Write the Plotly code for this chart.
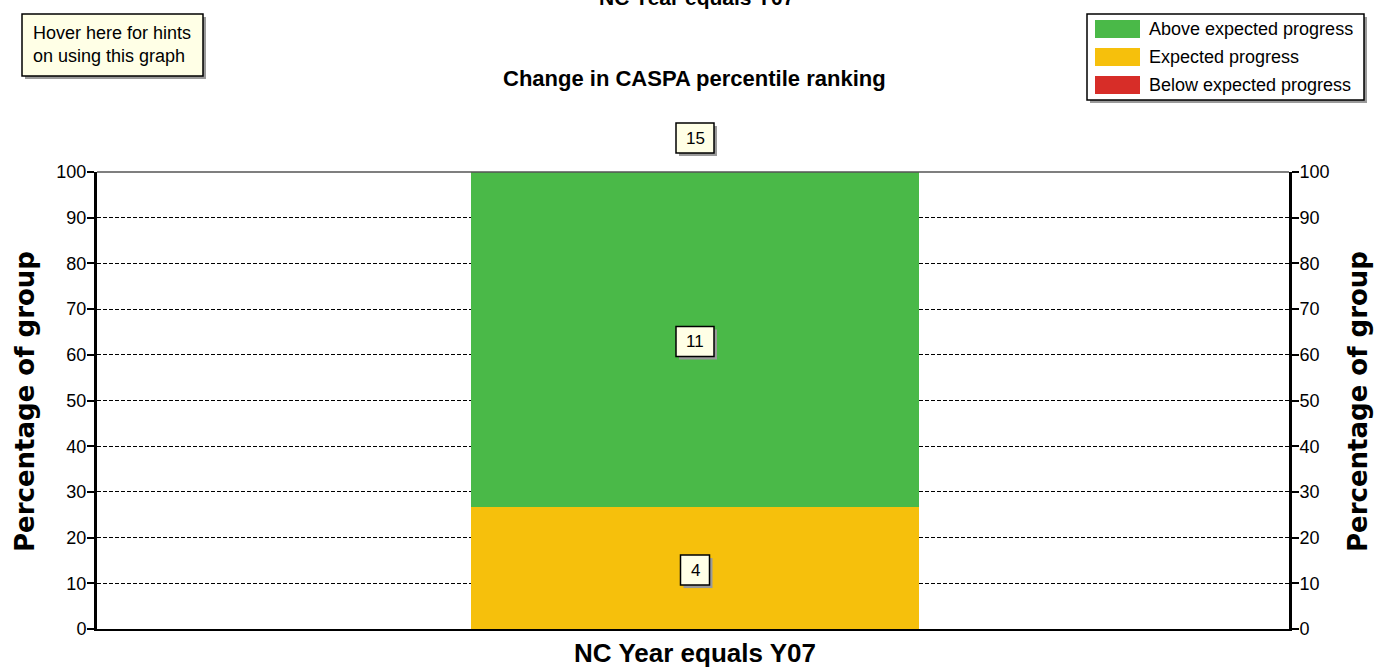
import plotly.graph_objects as go

# ---- data ----
categories = ["NC Year equals Y07"]
series_names = ["Above expected progress", "Expected progress", "Below expected progress"]
counts_above = [11]
counts_expected = [4]
counts_below = [0]
colors = ["#4AB948", "#F6C00C", "#D72D28"]
y_ticks = [0, 10, 20, 30, 40, 50, 60, 70, 80, 90, 100]

totals = [a + e + b for a, e, b in zip(counts_above, counts_expected, counts_below)]
pct_below = [100.0 * b / t for b, t in zip(counts_below, totals)]
pct_expected = [100.0 * e / t for e, t in zip(counts_expected, totals)]
pct_above = [100.0 * a / t for a, t in zip(counts_above, totals)]

W, H = 1381, 671
L, R, T, B = 97, 1289, 172, 629
FONT = "Liberation Sans, Arial"
WIDE = "DejaVu Sans, Verdana"


def px(xp):
    return (xp - L) / (R - L)


def py(yp):
    return (B - yp) / (B - T)


fig = go.Figure()
bar_w = 448 / (R - L)
fig.add_trace(go.Bar(x=categories, y=pct_below, name=series_names[2], marker_color=colors[2],
                     width=bar_w, marker_line_width=0, showlegend=False))
fig.add_trace(go.Bar(x=categories, y=pct_expected, name=series_names[1], marker_color=colors[1],
                     width=bar_w, marker_line_width=0, showlegend=False))
fig.add_trace(go.Bar(x=categories, y=pct_above, name=series_names[0], marker_color=colors[0],
                     width=bar_w, marker_line_width=0, showlegend=False))
# invisible trace to activate right-hand axis
fig.add_trace(go.Scatter(x=categories, y=[None], yaxis="y2", showlegend=False, hoverinfo="skip"))

annotations = []
shapes = []


def add_label(ci, y, text, yshift=0, outside=False):
    hw = 10 + 4.5 * len(text)
    hh = 15
    yref = "paper" if outside else "y"
    yanc = 1 if outside else y
    # shadow
    shapes.append(dict(type="rect", xref="x", yref=yref, xsizemode="pixel", ysizemode="pixel",
                       xanchor=ci, yanchor=yanc, x0=-hw + 3, x1=hw + 3, y0=yshift - hh - 3, y1=yshift + hh - 3,
                       fillcolor="#9a9a9a", line=dict(width=0), layer="above"))
    shapes.append(dict(type="rect", xref="x", yref=yref, xsizemode="pixel", ysizemode="pixel",
                       xanchor=ci, yanchor=yanc, x0=-hw, x1=hw, y0=yshift - hh, y1=yshift + hh,
                       fillcolor="#FFFFE6", line=dict(color="black", width=1.5), layer="above"))
    annotations.append(dict(x=ci, y=y, text=text, xref="x", yref="y", yshift=yshift,
                            showarrow=False, font=dict(family=FONT, size=17, color="black"),
                            xanchor="center", yanchor="middle"))


for i, c in enumerate(categories):
    base = pct_below[i]
    if counts_expected[i] > 0:
        add_label(i, base + pct_expected[i] / 2, f"{counts_expected[i]}", yshift=-2)
    base2 = base + pct_expected[i]
    if counts_above[i] > 0:
        add_label(i, base2 + pct_above[i] / 2, f"{counts_above[i]}", yshift=-2)
    add_label(i, 100, f"{totals[i]}", yshift=34, outside=True)

# titles
annotations.append(dict(x=px(696), y=py(-3), xref="paper", yref="paper", text="<b>NC Year equals Y07</b>",
                        showarrow=False, font=dict(family=FONT, size=21, color="black"),
                        xanchor="center", yanchor="middle"))
annotations.append(dict(x=px(694), y=py(78), xref="paper", yref="paper",
                        text="<b>Change in CASPA percentile ranking</b>",
                        showarrow=False, font=dict(family=FONT, size=22, color="black"),
                        xanchor="center", yanchor="middle"))

# y axis titles (both sides)
for xc in (25, 1358):
    annotations.append(dict(x=px(xc), y=py(402), xref="paper", yref="paper", text="Percentage of group",
                            textangle=-90, showarrow=False, xanchor="center", yanchor="middle",
                            font=dict(family=WIDE, size=26, color="black", weight="bold")))

# hint box
shapes.append(dict(type="rect", xref="paper", yref="paper", x0=px(25), x1=px(206), y0=py(17), y1=py(79),
                   fillcolor="#9a9a9a", line=dict(width=0), layer="above"))
shapes.append(dict(type="rect", xref="paper", yref="paper", x0=px(22), x1=px(203), y0=py(14), y1=py(76),
                   fillcolor="#FFFFE6", line=dict(color="black", width=1.5), layer="above"))
annotations.append(dict(x=px(31), y=py(45), xref="paper", yref="paper",
                        text="Hover here for hints<br>on using this graph", align="left",
                        showarrow=False, font=dict(family=FONT, size=18, color="black"),
                        xanchor="left", yanchor="middle"))

# manual legend
shapes.append(dict(type="rect", xref="paper", yref="paper", x0=px(1090), x1=px(1367), y0=py(17), y1=py(103),
                   fillcolor="#9a9a9a", line=dict(width=0), layer="above"))
shapes.append(dict(type="rect", xref="paper", yref="paper", x0=px(1087), x1=px(1364), y0=py(14), y1=py(100),
                   fillcolor="white", line=dict(color="black", width=1.5), layer="above"))
for k, (name, col) in enumerate(zip(series_names, colors)):
    yc = 29 + 28 * k
    shapes.append(dict(type="rect", xref="paper", yref="paper", x0=px(1095), x1=px(1140),
                       y0=py(yc + 9), y1=py(yc - 9), fillcolor=col, line=dict(width=0), layer="above"))
    annotations.append(dict(x=px(1147), y=py(yc), xref="paper", yref="paper", text=name,
                            showarrow=False, xanchor="left", yanchor="middle",
                            font=dict(family=FONT, size=18, color="black")))

# top border line
shapes.append(dict(type="line", xref="paper", yref="paper", x0=0, x1=1, y0=1, y1=1,
                   line=dict(color="#555555", width=1.5), layer="above"))

yaxis_common = dict(range=[0, 100], tickvals=y_ticks, ticks="outside", ticklen=7, tickwidth=2,
                    tickcolor="black", showline=True, linecolor="black", linewidth=3,
                    ticklabelstandoff=-3,
                    tickfont=dict(family=FONT, size=18, color="black"), zeroline=False)

xshift_units = 2 / (R - L)
fig.update_layout(
    width=W, height=H,
    margin=dict(l=L, r=W - R, t=T, b=H - B, autoexpand=False),
    paper_bgcolor="white", plot_bgcolor="white",
    barmode="stack", bargap=0,
    showlegend=False,
    xaxis=dict(range=[-0.5 - xshift_units, 0.5 - xshift_units], showline=True, linecolor="black",
               linewidth=2, ticks="",
               tickfont=dict(family=FONT, size=26, color="black", weight="bold"), showgrid=False),
    yaxis=dict(**yaxis_common, showgrid=True, gridcolor="black", gridwidth=1, griddash="4px,2px"),
    yaxis2=dict(**yaxis_common, overlaying="y", side="right", showgrid=False),
    annotations=annotations,
    shapes=shapes,
)

fig.write_html("out.html", config={"displayModeBar": False},
               post_script="document.body.style.margin='0';")
